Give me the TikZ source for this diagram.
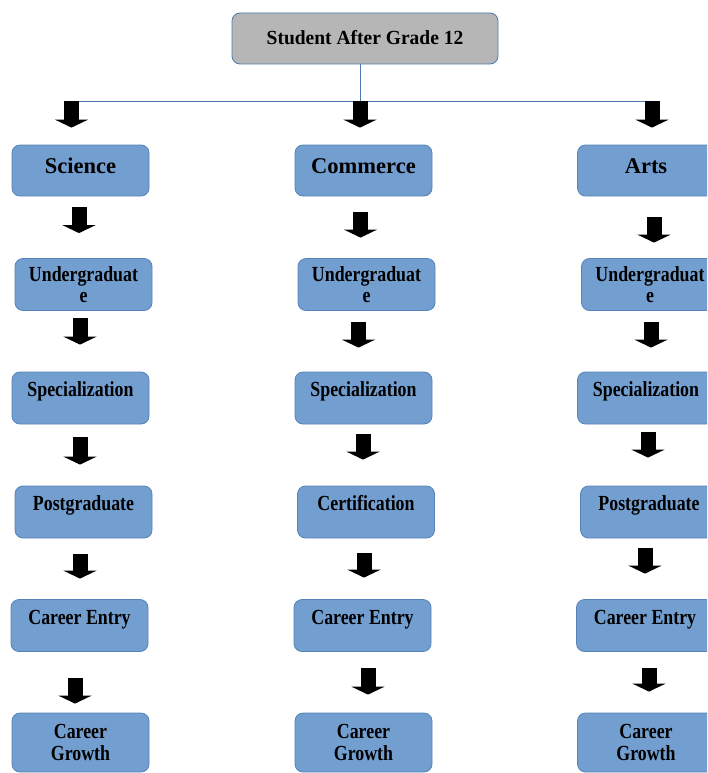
\documentclass[tikz,border=0pt]{standalone}
\usepackage{fontspec}
\setmainfont{Liberation Serif}
\newfontfamily\bodyfont[FakeStretch=0.83]{Liberation Serif}
\newfontfamily\topfont[FakeStretch=0.975]{Liberation Serif}
\usetikzlibrary{arrows.meta,calc}
\definecolor{boxfill}{RGB}{115,158,208}
\definecolor{boxline}{RGB}{86,130,185}
\definecolor{topfill}{RGB}{182,182,182}
\definecolor{connline}{RGB}{79,120,175}
\begin{document}
\begin{tikzpicture}[x=1pt,y=-1pt,
  box/.style={draw=boxline, line width=0.8pt, fill=boxfill, rounded corners=8pt,
    minimum width=137pt, minimum height=52pt, inner sep=0pt, align=center,
    font=\bodyfont\bfseries\fontsize{21.5}{21.5}\selectfont},
  one/.style={text height=24.5pt, text depth=27.5pt},
  head/.style={box, minimum height=51pt, text height=28pt, text depth=23pt,
    font=\rmfamily\bfseries\fontsize{22.5}{26}\selectfont},
  topbox/.style={box, fill=topfill, draw=connline, minimum width=266pt, minimum height=51pt,
    text height=32pt, text depth=19pt, font=\topfont\bfseries\fontsize{20}{22}\selectfont},
  blk/.style={line width=15pt, black, -{Triangle[width=33pt,length=8pt]}},
  conn/.style={draw=connline, line width=0.9pt}]
\useasboundingbox (0,0) rectangle (707,773);
\clip (0,0) rectangle (707,773);

% top
\node[topbox] (top) at (365,38.5) {Student After Grade 12};

% row 1
\node[head] (sci) at (80.5,170.5) {Science};
\node[head] (com) at (363.5,170.5) {Commerce};
\node[head] (art) at (646,170.5) {Arts};
% row 2
\node[box] (sci2) at (83.5,284.5) {Undergraduat\\e};
\node[box] (com2) at (366.5,284.5) {Undergraduat\\e};
\node[box] (art2) at (650,284.5) {Undergraduat\\e};
% row 3
\node[box,one] (sci3) at (80.5,398) {Specialization};
\node[box,one] (com3) at (363.5,398) {Specialization};
\node[box,one] (art3) at (646,398) {Specialization};
% row 4
\node[box,one] (sci4) at (83.5,512) {Postgraduate};
\node[box,one] (com4) at (366,512) {Certification};
\node[box,one] (art4) at (649,512) {Postgraduate};
% row 5
\node[box,one] (sci5) at (79.5,625.5) {Career Entry};
\node[box,one] (com5) at (362.5,625.5) {Career Entry};
\node[box,one] (art5) at (645,625.5) {Career Entry};
% row 6
\node[box,minimum height=59pt] (sci6) at (80.5,742.5) {Career\\Growth};
\node[box,minimum height=59pt] (com6) at (363.5,742.5) {Career\\Growth};
\node[box,minimum height=59pt] (art6) at (646,742.5) {Career\\Growth};

% tree connector
\coordinate (hub) at (360,101.5);
\coordinate (jl) at (71.5,101.5);
\coordinate (jr) at (652,101.5);
\draw[conn] (top.south -| hub) -- (hub);
\draw[conn] (jl) -- (jr);

% row 1 arrows
\draw[blk] (jl) -- ($(sci.north)+(-9,-17)$);
\draw[blk] (hub) -- ($(com.north)+(-3.5,-17)$);
\draw[blk] (jr) -- ($(art.north)+(6,-17)$);
% row 2 arrows
\draw[blk] ($(sci.south)+(-1.5,11)$) -- ($(sci2.north)+(-4.5,-25)$);
\draw[blk] ($(com.south)+(-3,16)$) -- ($(com2.north)+(-6,-20.5)$);
\draw[blk] ($(art.south)+(8,21)$) -- ($(art2.north)+(4,-15.5)$);
% row 3 arrows
\draw[blk] ($(sci2.south)+(-3.5,7.5)$) -- ($(sci3.north)+(-0.5,-27)$);
\draw[blk] ($(com2.south)+(-8,11.5)$) -- ($(com3.north)+(-5,-24)$);
\draw[blk] ($(art2.south)+(1,11.5)$) -- ($(art3.north)+(5,-24)$);
% row 4 arrows
\draw[blk] ($(sci3.south)+(-0.5,13)$) -- ($(sci4.north)+(-3.5,-21)$);
\draw[blk] ($(com3.south)+(-0.5,10)$) -- ($(com4.north)+(-3,-26)$);
\draw[blk] ($(art3.south)+(2,8)$) -- ($(art4.north)+(-1,-28)$);
% row 5 arrows
\draw[blk] ($(sci4.south)+(-3.5,16)$) -- ($(sci5.north)+(0.5,-20.5)$);
\draw[blk] ($(com4.south)+(-2,15)$) -- ($(com5.north)+(1.5,-21.5)$);
\draw[blk] ($(art4.south)+(-4,10)$) -- ($(art5.north)+(0,-25.5)$);
% row 6 arrows
\draw[blk] ($(sci5.south)+(-4.5,26.5)$) -- ($(sci6.north)+(-5.5,-9)$);
\draw[blk] ($(com5.south)+(5.5,16.5)$) -- ($(com6.north)+(4.5,-18)$);
\draw[blk] ($(art5.south)+(4,16.5)$) -- ($(art6.north)+(3,-21)$);
\end{tikzpicture}
\end{document}
